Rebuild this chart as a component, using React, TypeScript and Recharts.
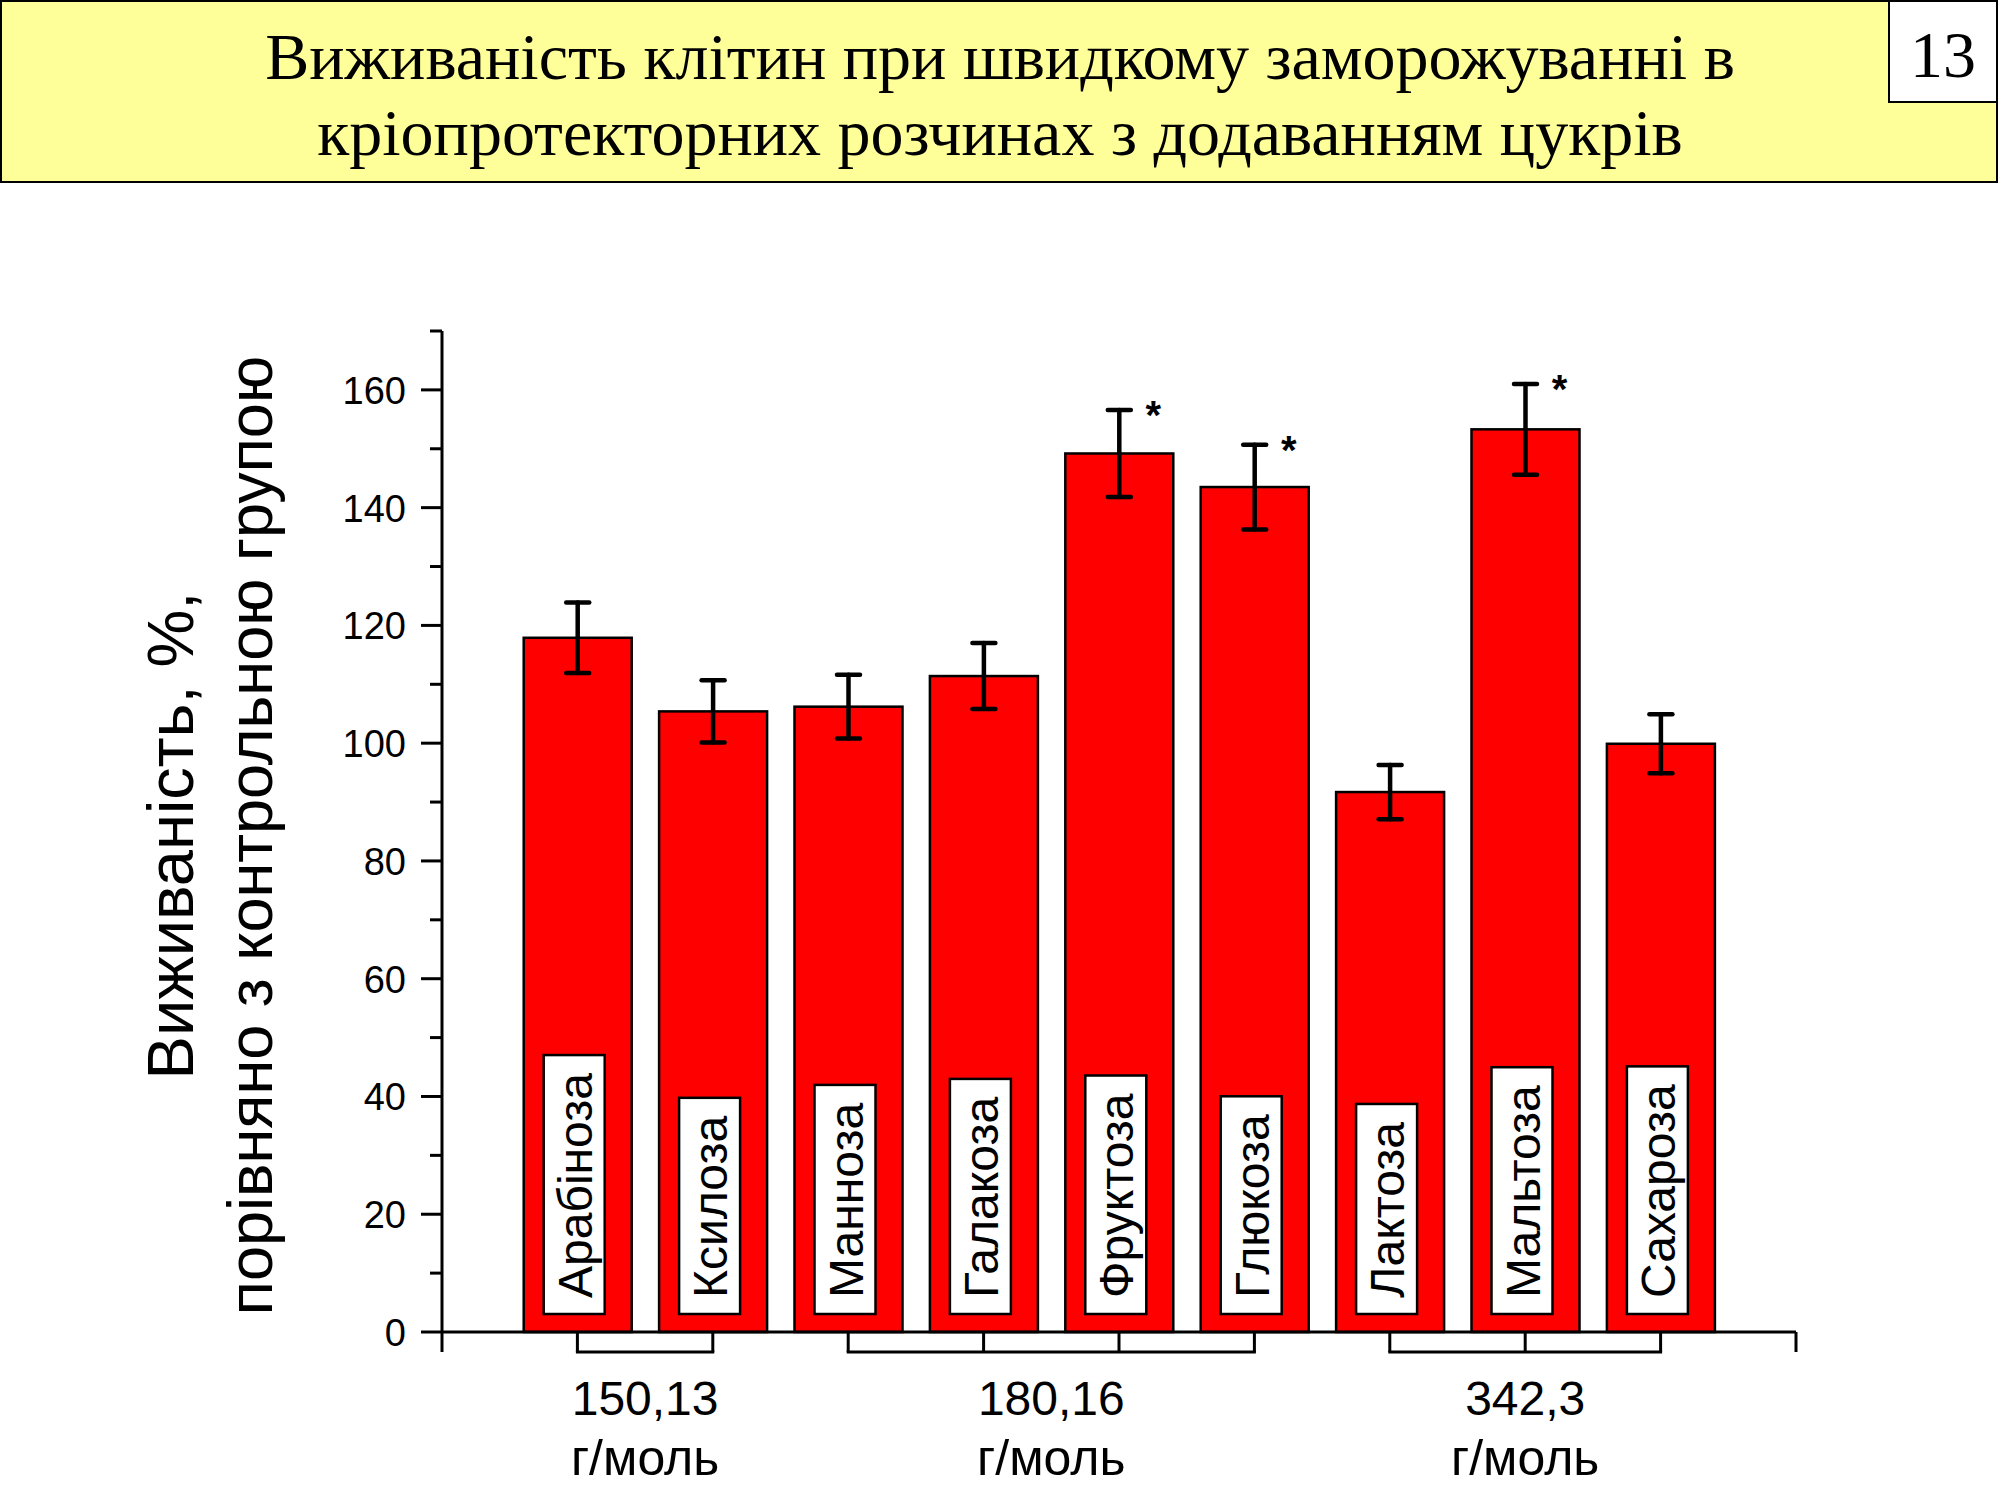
import React from 'react';
import { Bar, BarChart, ErrorBar, LabelList, XAxis, YAxis } from 'recharts';

// survival of cells after rapid freezing, % of control group
const sugars = ['Арабіноза', 'Ксилоза', 'Манноза', 'Галакоза', 'Фруктоза', 'Глюкоза', 'Лактоза', 'Мальтоза', 'Сахароза'];
const positions = [1, 2, 3, 4, 5, 6, 7, 8, 9];
const survival = [117.9, 105.4, 106.2, 111.4, 149.2, 143.5, 91.7, 153.3, 99.9];
const sem = [6, 5.3, 5.4, 5.6, 7.4, 7.2, 4.6, 7.7, 5];
const significant = [false, false, false, false, true, true, false, true, false];

// molar mass groups along the x axis
const massLabels = ['150,13', '180,16', '342,3'];
const groupFirst = [1, 3, 7];
const groupLast = [2, 6, 9];

const yTicks = [0, 10, 20, 30, 40, 50, 60, 70, 80, 90, 100, 110, 120, 130, 140, 150, 160, 170];
const xTicks = [0, 1, 2, 3, 4, 5, 6, 7, 8, 9, 10];

const W = 2000;
const H = 1500;
const PLOT_LEFT = 442;
const PLOT_RIGHT = 1796;
const PLOT_TOP = 331;
const PLOT_BOTTOM = 1332;
const UNIT = (PLOT_RIGHT - PLOT_LEFT) / 10;

const SANS = '"Liberation Sans", Arial, sans-serif';
const SERIF = '"Liberation Serif", "Times New Roman", serif';
const LABEL_SIZE = 48;

const data = sugars.map((name, i) => ({
  name,
  pos: positions[i],
  value: survival[i],
  err: sem[i],
  star: significant[i] ? '*' : '',
}));

let ctx: CanvasRenderingContext2D | null = null;
const textWidth = (text: string, font: string) => {
  if (!ctx) ctx = document.createElement('canvas').getContext('2d');
  if (!ctx) return text.length * 25;
  ctx.font = font;
  return ctx.measureText(text).width;
};

const SugarBar = (props: any) => {
  const { x, y, width, height, index } = props;
  const name = sugars[index];
  const cx = x + width / 2;
  const bottom = y + height;
  const textStart = bottom - 34;
  const len = textWidth(name, `${LABEL_SIZE}px "Liberation Sans"`);
  const boxTop = textStart - len - 18;
  return (
    <g>
      <rect x={x} y={y} width={width} height={height} fill="#ff0000" stroke="#000" strokeWidth={2.5} />
      <rect x={cx - 34} y={boxTop} width={61} height={bottom - 18 - boxTop} fill="#fff" stroke="#000" strokeWidth={2.5} />
      <text
        transform={`translate(${cx + 14},${textStart}) rotate(-90)`}
        fontFamily={SANS}
        fontSize={LABEL_SIZE}
        fill="#000"
      >
        {name}
      </text>
    </g>
  );
};

const StarLabel = (props: any) => {
  const { x, y, width, height, index, value } = props;
  if (!value) return null;
  const errTop = y - (sem[index] * height) / survival[index];
  return (
    <text x={x + width / 2 + 34} y={errTop + 19} textAnchor="middle" fontFamily={SANS} fontWeight="bold" fontSize={40} fill="#000">
      {value}
    </text>
  );
};

const YTick = (props: any) => {
  const { x, y, payload } = props;
  const major = payload.value % 20 === 0;
  const axisX = x + 36;
  return (
    <g>
      <line x1={axisX - (major ? 21 : 12)} x2={axisX} y1={y} y2={y} stroke="#000" strokeWidth={3} />
      {major && (
        <text x={x} y={y + 14} textAnchor="end" fontFamily={SANS} fontSize={38} fill="#000">
          {payload.value}
        </text>
      )}
    </g>
  );
};

const XTick = (props: any) => {
  const { x, y, payload } = props;
  const v = payload.value;
  const g = groupFirst.indexOf(v);
  const span = g >= 0 ? (groupLast[g] - v) * UNIT : 0;
  return (
    <g>
      <line x1={x} x2={x} y1={y - 20} y2={y} stroke="#000" strokeWidth={3} />
      {g >= 0 && (
        <g>
          <line x1={x - 1.5} x2={x + span + 1.5} y1={y} y2={y} stroke="#000" strokeWidth={3} />
          <text x={x + span / 2} y={y + 63} textAnchor="middle" fontFamily={SANS} fontSize={48} fill="#000">
            {massLabels[g]}
          </text>
          <text x={x + span / 2} y={y + 123} textAnchor="middle" fontFamily={SANS} fontSize={50} fill="#000">
            г/моль
          </text>
        </g>
      )}
    </g>
  );
};

const Header = () => (
  <svg width={W} height={200} style={{ position: 'absolute', left: 0, top: 0 }}>
    <rect x={1} y={1} width={1996} height={181} fill="#ffff99" stroke="#000" strokeWidth={2} />
    <rect x={1889} y={1} width={108} height={101} fill="#fff" stroke="#000" strokeWidth={2} />
    <text x={1000} y={79} textAnchor="middle" fontFamily={SERIF} fontSize={66} fill="#000">
      Виживаність клітин при швидкому заморожуванні в
    </text>
    <text x={1000} y={155} textAnchor="middle" fontFamily={SERIF} fontSize={66} fill="#000">
      кріопротекторних розчинах з додаванням цукрів
    </text>
    <text x={1943} y={77} textAnchor="middle" fontFamily={SERIF} fontSize={66} fill="#000">
      13
    </text>
  </svg>
);

const AxisTitle = () => {
  const cy = (PLOT_TOP + PLOT_BOTTOM) / 2 + 4;
  return (
    <svg width={400} height={H} style={{ position: 'absolute', left: 0, top: 0 }}>
      <text transform={`translate(193,${cy}) rotate(-90)`} textAnchor="middle" fontFamily={SANS} fontSize={65} fill="#000">
        Виживаність, %,
      </text>
      <text transform={`translate(272,${cy}) rotate(-90)`} textAnchor="middle" fontFamily={SANS} fontSize={63} fill="#000">
        порівняно з контрольною групою
      </text>
    </svg>
  );
};

export default function App() {
  return (
    <div style={{ position: 'absolute', left: 0, top: 0, width: W, height: H, background: '#fff' }}>
      <BarChart
        width={W}
        height={H}
        data={data}
        margin={{ top: PLOT_TOP, right: W - PLOT_RIGHT, bottom: 0, left: 0 }}
      >
        <XAxis
          dataKey="pos"
          type="number"
          domain={[0, 10]}
          ticks={xTicks}
          interval={0}
          height={H - PLOT_BOTTOM}
          tickSize={20}
          tickMargin={0}
          tickLine={false}
          axisLine={{ stroke: '#000', strokeWidth: 3 }}
          tick={<XTick />}
        />
        <YAxis
          type="number"
          domain={[0, 170]}
          ticks={yTicks}
          interval={0}
          width={PLOT_LEFT}
          tickSize={21}
          tickMargin={15}
          tickLine={false}
          axisLine={{ stroke: '#000', strokeWidth: 3 }}
          tick={<YTick />}
        />
        <Bar dataKey="value" barSize={108} shape={<SugarBar />} isAnimationActive={false}>
          <ErrorBar dataKey="err" width={11.5} strokeWidth={4.5} stroke="#000" strokeLinecap="round" isAnimationActive={false} />
          <LabelList dataKey="star" content={<StarLabel />} />
        </Bar>
      </BarChart>
      <Header />
      <AxisTitle />
    </div>
  );
}
